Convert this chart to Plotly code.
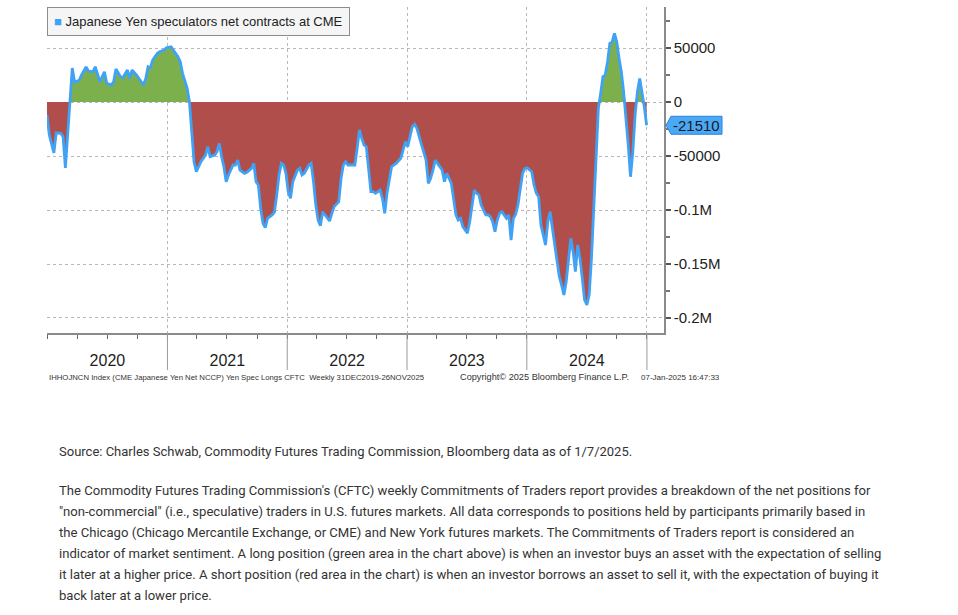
import numpy as np
import pandas as pd
import plotly.graph_objects as go

# weekly CFTC report number counted from 31-Dec-2019, and the net contracts
weeks = [0, 1, 3, 4, 6, 7, 8, 10, 11, 12, 14, 15, 17, 18, 20, 21, 22, 23, 25, 26, 28, 29, 30, 32, 33,
         35, 36, 37, 39, 40, 42, 43, 44, 45, 46, 48, 49, 51, 52, 54, 55, 57, 58, 59, 61, 62, 63, 64, 65,
         66, 67, 69, 70, 71, 73, 74, 75, 76, 77, 78, 79, 81, 82, 83, 84, 86, 87, 89, 90, 91, 92, 93, 94,
         95, 96, 98, 99, 100, 101, 102, 103, 104, 105, 106, 107, 109, 110, 111, 112, 114, 115, 116, 117,
         118, 119, 120, 121, 123, 124, 125, 127, 128, 129, 130, 131,
         132, 134, 135, 136, 137, 138, 139, 140, 141, 142, 143, 145, 146, 147, 148, 149, 150, 151, 152,
         154, 155, 156, 157, 158, 159, 160, 161, 162, 163, 165, 166, 167, 168, 169, 170, 171, 172, 173,
         174, 176, 177, 178, 179, 180, 181, 183, 184, 185, 186, 187, 188, 189, 191, 192, 193, 194, 195,
         196, 197, 198, 200, 201, 202, 203, 204,
         205, 206, 207, 208, 209, 211, 212, 213, 214, 215, 216, 217, 218, 219, 220, 221, 222, 223, 224,
         225, 226, 227, 228, 229, 230, 231, 232, 233, 234, 235, 236, 237, 238, 239, 240, 241, 242, 243,
         244, 245, 246, 247, 248, 249, 250, 251, 252, 253, 254, 255, 256, 257, 258, 259, 260, 261]

net_contracts = [
    -12000, -30500, -47000, -28500, -29000, -32000, -61000, 0, 31500, 18500, 20000, 25000, 32400,
    28700, 28000, 32700, 25600, 18800, 28000, 17300, 15700, 18800, 30500, 23500, 22500, 29600, 21900,
    29600, 25000, 21900, 15700, 21900, 32700, 31800, 38900, 45000, 46600, 48200, 50300, 51200, 48200,
    42000, 37300, 26600, 12700, 300, -27500, -55300, -64500,
    -59900, -55300, -49100, -41400, -50600, -49100, -46000, -38300, -50600, -59900, -73800, -67600,
    -58300, -58300, -53700, -63000, -66000, -65100, -61400, -56800, -73800, -76900, -98400, -112300,
    -116400, -107700, -104600, -102100, -86100, -67600, -56800, -58300, -66000, -83000, -89200, -73800,
    -63000, -61400, -67600, -66000, -58300, -56800, -73800, -95400, -109300, -114500, -101600, -104600,
    -110200, -103100, -96900, -92300, -70700, -58300, -55300, -58300,
    -58300, -58300, -42900, -25900, -33600, -39800, -41400, -64500, -83000, -83000, -84500, -81500,
    -89200, -103100, -84500, -72200, -59900, -58300, -56800, -52100, -42900, -36700, -41400, -32100,
    -22800, -20700, -24400, -32100, -39800, -53700, -75300, -70700, -63000, -53700, -56800, -59900,
    -63000, -73800, -66000, -75300, -89200, -104600, -109300, -107700, -115400, -121600, -110800,
    -95400, -81500, -84500, -86100, -95400, -104600, -104600, -106100, -110800, -120100, -109300,
    -103100, -101600, -107700, -104600, -127800, -107700, -104000,
    -95400, -79900, -66000, -61400, -60800, -64500, -76900, -84500, -87700, -113900, -123200, -132400,
    -110800, -101600, -117000, -132400, -144700, -161800, -169500, -178700, -166400, -144700, -126200,
    -138600, -157100, -132400, -144700, -163300, -183300, -188000, -178700, -144700, -98400, -52100,
    -5800, 8000, 23500, 25000, 37300, 54300, 55800, 63600, 55800, 40500, 28000, 9500, -12000, -39800,
    -69200, -46000, -12000, 9500, 21900, 9500, -4400, -21510]

y_ticks = [50000, 0, -50000, -100000, -150000, -200000]
y_tick_labels = ["50000", "0", "-50000", "-0.1M", "-0.15M", "-0.2M"]

legend_text = "Japanese Yen speculators net contracts at CME"
footnote_left = "IHHOJNCN Index (CME Japanese Yen Net NCCP) Yen Spec Longs CFTC  Weekly 31DEC2019-26NOV2025"
footnote_mid = "Copyright\u00a9 2025 Bloomberg Finance L.P."
footnote_right = "07-Jan-2025 16:47:33"
source_line = "Source: Charles Schwab, Commodity Futures Trading Commission, Bloomberg data as of 1/7/2025."
body_lines = [
    "The Commodity Futures Trading Commission's (CFTC) weekly Commitments of Traders report provides a breakdown of the net positions for",
    "\"non-commercial\" (i.e., speculative) traders in U.S. futures markets. All data corresponds to positions held by participants primarily based in",
    "the Chicago (Chicago Mercantile Exchange, or CME) and New York futures markets. The Commitments of Traders report is considered an",
    "indicator of market sentiment. A long position (green area in the chart above) is when an investor buys an asset with the expectation of selling",
    "it later at a higher price. A short position (red area in the chart) is when an investor borrows an asset to sell it, with the expectation of buying it",
    "back later at a lower price.",
]

GREEN = "#7cb04d"
RED = "#b04e4b"
BLUE = "#40a2f5"
BB_FONT = "Liberation Sans, Arial, sans-serif"
TEXT_FONT = "Roboto, Open Sans, sans-serif"

dates = pd.Timestamp("2019-12-31") + pd.to_timedelta(np.array(weeks) * 7, unit="D")
values = np.array(net_contracts, dtype=float)

fig = go.Figure()
fig.add_trace(go.Scatter(x=dates, y=np.maximum(values, 0), mode="lines", fill="tozeroy",
                         fillcolor=GREEN, line=dict(width=0, color=GREEN), hoverinfo="skip"))
fig.add_trace(go.Scatter(x=dates, y=np.minimum(values, 0), mode="lines", fill="tozeroy",
                         fillcolor=RED, line=dict(width=0, color=RED), hoverinfo="skip"))
fig.add_trace(go.Scatter(x=dates, y=values, mode="lines", line=dict(color=BLUE, width=2.8),
                         name=legend_text))

# plot area in pixels: left 47, right 664, top 7, bottom 333
W, H = 958, 615
L, R, T, B = 47, 664, 7, 333


def py(ypix):
    return (B - ypix) / (B - T)


def px_(xpix):
    return (xpix - L) / (R - L)


years = pd.date_range("2021-01-01", "2025-01-01", freq="YS")
for yr in years:
    fig.add_shape(type="line", xref="x", yref="paper", x0=yr, x1=yr, y0=0, y1=py(370),
                  line=dict(color="#9a9a9a", width=1))

# last value tag
last = net_contracts[-1]
fig.add_shape(type="path", xref="paper", yref="y", xsizemode="pixel", ysizemode="pixel",
              xanchor=1, yanchor=last, path="M 2,0 L 7,9 L 58,9 L 58,-9 L 7,-9 Z",
              fillcolor="#4aa9f7", line=dict(color="#2b82d6", width=1))
fig.add_annotation(xref="paper", yref="y", x=px_(671), y=last, xanchor="left", yanchor="middle",
                   text=str(last), showarrow=False, font=dict(family=BB_FONT, size=15, color="#1a1a1a"))

# legend box
fig.add_annotation(xref="paper", yref="paper", x=0, y=1, xanchor="left", yanchor="top",
                   text=f'<span style="color:{BLUE}">\u25a0</span> {legend_text}', showarrow=False,
                   font=dict(family=BB_FONT, size=13, color="#222222"), bgcolor="#f5f5f5",
                   bordercolor="#8c8c8c", borderwidth=1, borderpad=6)

# footnotes
for txt, xp, anchor, size in [(footnote_left, 47, "left", 7.75), (footnote_mid, 458, "left", 9.2),
                              (footnote_right, 722, "right", 8)]:
    fig.add_annotation(xref="paper", yref="paper", x=px_(xp), y=py(377), xanchor=anchor, yanchor="middle",
                       text=txt, showarrow=False, font=dict(family=BB_FONT, size=size, color="#333333"))

fig.add_annotation(xref="paper", yref="paper", x=px_(57), y=py(451), xanchor="left", yanchor="middle",
                   text=source_line, showarrow=False, font=dict(family=TEXT_FONT, size=13, color="#333333"))
for i, line in enumerate(body_lines):
    fig.add_annotation(xref="paper", yref="paper", x=px_(57), y=py(490 + 21 * i), xanchor="left",
                       yanchor="middle", text=line, showarrow=False,
                       font=dict(family=TEXT_FONT, size=13.1, color="#333333"))

fig.update_layout(
    width=W, height=H, autosize=False,
    margin=dict(l=L, r=W - R, t=T, b=H - B),
    paper_bgcolor="white", plot_bgcolor="white",
    showlegend=False,
    xaxis=dict(
        type="date", range=["2019-12-31", "2025-02-22"],
        tick0="2020-01-01", dtick="M12", tickformat="%Y", ticklabelmode="period",
        ticks="outside", ticklen=4, tickcolor="#666666", ticklabelstandoff=8,
        minor=dict(dtick="M3", ticks="outside", ticklen=4, tickcolor="#666666", showgrid=False),
        showgrid=True, gridcolor="#b8b8b8", griddash="dot", gridwidth=1,
        showline=True, linecolor="#8a8a8a", linewidth=1.5,
        tickfont=dict(family=BB_FONT, size=16, color="#1e1e1e"),
        zeroline=False, automargin=False, fixedrange=True,
    ),
    yaxis=dict(
        side="right", range=[-213900, 88000],
        tickmode="array", tickvals=y_ticks, ticktext=y_tick_labels,
        ticks="outside", ticklen=5, tickcolor="#555555", tickwidth=1.5,
        minor=dict(tickmode="linear", tick0=0, dtick=25000, ticks="outside", ticklen=4,
                   tickcolor="#777777", showgrid=False),
        showgrid=True, gridcolor="#b8b8b8", griddash="dot", gridwidth=1,
        showline=True, linecolor="#8a8a8a", linewidth=1.5,
        tickfont=dict(family=BB_FONT, size=15, color="#222222"),
        zeroline=False, automargin=False, fixedrange=True,
    ),
)

fig.write_html("out.html", config={"displayModeBar": False},
               post_script="document.body.style.margin='0px';")
